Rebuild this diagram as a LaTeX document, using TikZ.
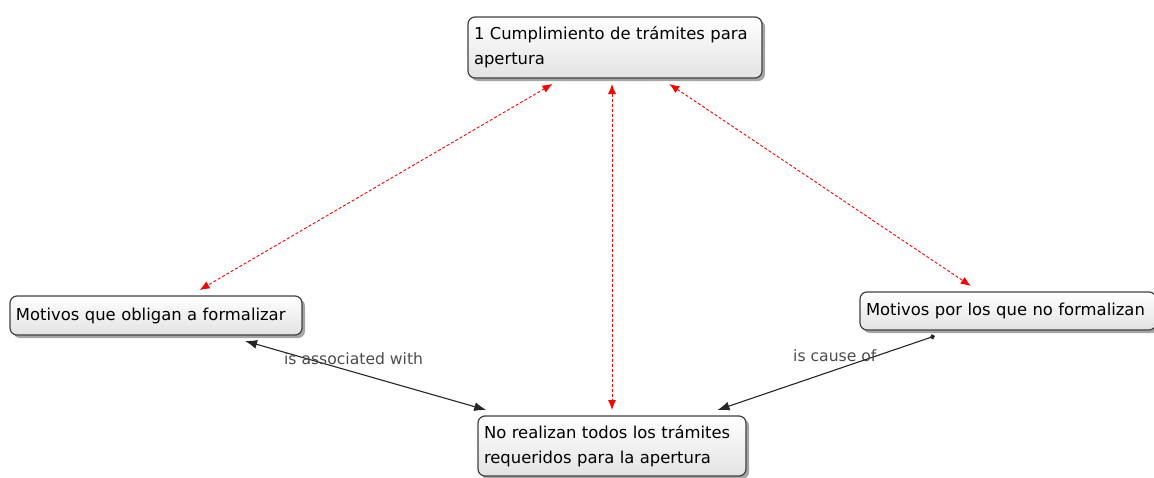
\documentclass[tikz,border=0pt]{standalone}
\usepackage{fontspec}
\setmainfont{DejaVu Sans}
\usetikzlibrary{arrows.meta,shadows,positioning}

\tikzset{
  concept/.style={draw=black!75, line width=1.2pt, rounded corners=7pt,
    top color=white, bottom color=black!11,
    drop shadow={shadow xshift=3pt, shadow yshift=-3pt, fill=black!70},
    align=left, text width=#1, inner xsep=6pt, inner ysep=0pt, outer sep=6pt,
    font=\fontsize{16.4}{25}\selectfont},
  redlink/.style={red, densely dashed, line width=0.9pt,
    {Latex[length=10pt,width=8pt]}-{Latex[length=10pt,width=8pt]}},
  link/.style={black!85, line width=1.1pt},
  lbl/.style={text=black!70, font=\fontsize{15.6}{17}\selectfont, inner sep=0pt}
}

\begin{document}
\begin{tikzpicture}[x=1pt, y=-1pt]
    \useasboundingbox (0,0) rectangle (1154,477);

    \node[concept=282pt, minimum height=61pt] (tramites) at (615,47.5)
        {1 Cumplimiento de trámites para\\apertura};
    \node[concept=280pt, minimum height=39pt] (obligan) at (156,315.5)
        {Motivos que obligan a formalizar};
    \node[concept=284pt, minimum height=38pt] (noformal) at (1008,311)
        {Motivos por los que no formalizan};
    \node[concept=256pt, minimum height=60pt] (norealizan) at (612,446)
        {No realizan todos los trámites\\requeridos para la apertura};

    \draw[redlink] (tramites) -- (obligan);
    \draw[redlink] (tramites) -- (noformal);
    \draw[redlink] (tramites.south -| norealizan.north) -- (norealizan.north);

    \draw[link, {Latex[length=12pt,width=9pt]}-{Latex[length=12pt,width=9pt]}]
        (obligan) -- node[lbl, pos=0.45, yshift=13pt] {is associated with} (norealizan);
    \draw[link, {Circle[length=5pt]}-{Latex[length=12pt,width=9pt]}]
        (noformal) -- node[lbl, pos=0.46, yshift=14pt] {is cause of} (norealizan);
\end{tikzpicture}
\end{document}
